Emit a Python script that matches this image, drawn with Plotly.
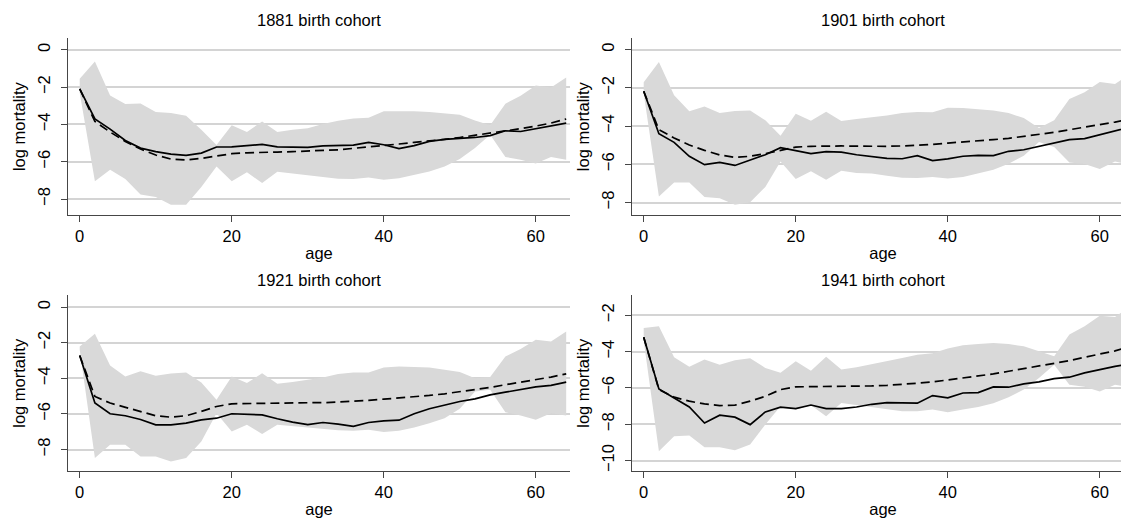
import plotly.graph_objects as go

ages = list(range(0, 65, 2))

titles = ["1881 birth cohort", "1901 birth cohort", "1921 birth cohort", "1941 birth cohort"]

# 1881 cohort
upper_1881 = [-1.55, -0.63, -2.45, -2.9, -2.88, -3.34, -3.39, -3.54, -4.29, -5.1, -4.05, -4.41, -3.84, -4.41, -4.29, -4.2, -3.98,
              -3.8, -3.68, -3.64, -3.3, -3.29, -3.3, -3.34, -3.39, -3.48, -3.79, -4.05, -2.89, -2.46, -1.91, -2.02, -1.48]
lower_1881 = [-2.3, -7.05, -6.43, -6.93, -7.75, -7.89, -8.3, -8.3, -7.36, -6.25, -7.05, -6.57, -7.14, -6.54, -6.64, -6.72, -6.82,
              -6.91, -6.93, -6.84, -6.96, -6.88, -6.7, -6.52, -6.25, -5.86, -5.27, -4.55, -5.75, -5.89, -6.1, -5.75, -5.89]
solid_1881 = [-2.1, -3.71, -4.25, -4.86, -5.27, -5.46, -5.59, -5.66, -5.54, -5.21, -5.2, -5.13, -5.07, -5.2, -5.23, -5.23, -5.15,
              -5.14, -5.11, -4.96, -5.09, -5.3, -5.14, -4.91, -4.8, -4.75, -4.7, -4.6, -4.34, -4.38, -4.23, -4.07, -3.93]
dashed_1881 = [-2.1, -3.84, -4.41, -4.91, -5.32, -5.64, -5.86, -5.91, -5.82, -5.68, -5.57, -5.52, -5.48, -5.48, -5.46, -5.44, -5.39,
               -5.36, -5.29, -5.2, -5.13, -5.05, -4.96, -4.89, -4.8, -4.7, -4.59, -4.48, -4.38, -4.23, -4.09, -3.93, -3.71]

# 1901 cohort
upper_1901 = [-1.71, -0.65, -2.39, -3.23, -2.97, -3.32, -3.21, -3.19, -3.7, -4.5, -3.35, -3.72, -3.25, -3.73, -3.63, -3.55, -3.45,
              -3.32, -3.26, -3.28, -3.04, -3.05, -3.11, -3.18, -3.32, -3.58, -4.1, -3.7, -2.58, -2.23, -1.69, -1.8, -1.26]
lower_1901 = [-2.3, -7.68, -6.95, -6.95, -7.71, -7.78, -8.12, -7.99, -7.19, -5.85, -6.77, -6.37, -6.81, -6.34, -6.46, -6.48, -6.6,
              -6.7, -6.72, -6.67, -6.75, -6.67, -6.46, -6.28, -5.97, -5.55, -4.83, -5.1, -5.9, -5.99, -6.25, -5.85, -6.02]
solid_1901 = [-2.18, -4.4, -4.85, -5.58, -6.02, -5.9, -6.06, -5.79, -5.5, -5.13, -5.27, -5.44, -5.34, -5.36, -5.5, -5.58, -5.69,
              -5.71, -5.55, -5.81, -5.72, -5.58, -5.53, -5.55, -5.32, -5.24, -5.06, -4.89, -4.71, -4.66, -4.45, -4.24, -4.05]
dashed_1901 = [-2.18, -4.19, -4.62, -4.99, -5.27, -5.51, -5.64, -5.58, -5.44, -5.27, -5.1, -5.06, -5.04, -5.04, -5.05, -5.06, -5.06,
               -5.04, -5.01, -4.96, -4.89, -4.83, -4.8, -4.71, -4.64, -4.54, -4.45, -4.33, -4.19, -4.07, -3.93, -3.79, -3.63]

# 1921 cohort
upper_1921 = [-2.21, -1.5, -3.28, -3.9, -3.61, -3.86, -3.73, -3.67, -4.23, -5.21, -3.9, -4.27, -3.71, -4.31, -4.21, -4.08, -3.95,
              -3.76, -3.67, -3.67, -3.39, -3.33, -3.37, -3.39, -3.52, -3.65, -3.99, -3.93, -2.77, -2.36, -1.84, -1.93, -1.37]
lower_1921 = [-2.4, -8.48, -7.73, -7.73, -8.39, -8.39, -8.67, -8.48, -7.55, -5.96, -6.99, -6.61, -7.13, -6.61, -6.7, -6.76, -6.84,
              -6.91, -6.95, -6.89, -7.02, -6.95, -6.76, -6.52, -6.24, -5.71, -4.74, -4.64, -5.9, -6.09, -6.33, -5.96, -6.09]
solid_1921 = [-2.72, -5.39, -5.99, -6.1, -6.31, -6.61, -6.61, -6.52, -6.33, -6.24, -5.99, -6.01, -6.05, -6.27, -6.46, -6.6, -6.48,
              -6.57, -6.7, -6.48, -6.39, -6.35, -5.99, -5.71, -5.49, -5.3, -5.15, -4.93, -4.78, -4.61, -4.48, -4.4, -4.21]
dashed_1921 = [-2.72, -5.02, -5.39, -5.64, -5.86, -6.1, -6.18, -6.1, -5.86, -5.58, -5.43, -5.41, -5.39, -5.39, -5.39, -5.37, -5.37,
               -5.34, -5.3, -5.24, -5.17, -5.11, -5.04, -4.96, -4.87, -4.76, -4.64, -4.51, -4.36, -4.23, -4.08, -3.93, -3.75]

# 1941 cohort
upper_1941 = [-2.7, -2.61, -4.31, -4.84, -4.44, -4.72, -4.48, -4.37, -4.9, -5.17, -4.53, -5.05, -4.29, -4.99, -4.86, -4.7, -4.55,
              -4.35, -4.17, -4.09, -3.83, -3.65, -3.58, -3.52, -3.58, -3.71, -3.98, -4.26, -3.06, -2.61, -2.02, -2.09, -1.5]
lower_1941 = [-3.4, -9.49, -8.66, -8.62, -9.27, -9.27, -9.43, -9.12, -8.02, -7.01, -7.19, -6.95, -7.56, -6.83, -6.92, -7.05, -7.17,
              -7.28, -7.28, -7.19, -7.34, -7.19, -7.05, -6.84, -6.51, -6.09, -5.45, -4.72, -5.82, -5.93, -6.19, -5.82, -5.96]
solid_1941 = [-3.21, -6.06, -6.55, -7.05, -7.93, -7.5, -7.61, -8.02, -7.32, -7.06, -7.14, -6.94, -7.14, -7.14, -7.05, -6.9, -6.81,
              -6.84, -6.84, -6.42, -6.55, -6.28, -6.26, -5.94, -5.96, -5.78, -5.67, -5.49, -5.41, -5.17, -4.99, -4.81, -4.68]
dashed_1941 = [-3.21, -6.09, -6.51, -6.73, -6.88, -6.97, -6.95, -6.73, -6.46, -6.09, -5.94, -5.93, -5.94, -5.94, -5.93, -5.89, -5.86,
               -5.82, -5.74, -5.67, -5.56, -5.47, -5.36, -5.23, -5.08, -4.94, -4.81, -4.66, -4.5, -4.31, -4.15, -3.96, -3.72]

panels = [
    (upper_1881, lower_1881, solid_1881, dashed_1881),
    (upper_1901, lower_1901, solid_1901, dashed_1901),
    (upper_1921, lower_1921, solid_1921, dashed_1921),
    (upper_1941, lower_1941, solid_1941, dashed_1941),
]

y_ticks = [[0, -2, -4, -6, -8], [0, -2, -4, -6, -8], [0, -2, -4, -6, -8], [-2, -4, -6, -8, -10]]
y_ranges = [[-8.87, 0.63], [-8.67, 0.61], [-9.22, 0.66], [-10.59, -0.9]]
x_ticks = [0, 20, 40, 60]

W, H = 1129, 519
xdoms = [[60 / W, 562 / W], [624 / W, 1126 / W]]
ydoms = [[1 - 207.3 / H, 1 - 30 / H], [1 - 463.3 / H, 1 - 287.3 / H]]

FONT = "Liberation Sans, Arial, Helvetica, sans-serif"
FS = 16.5
fig = go.Figure()
layout = {}
for i, (up, lo, so, da) in enumerate(panels):
    r, c = divmod(i, 2)
    xa = "x" if i == 0 else f"x{i+1}"
    ya = "y" if i == 0 else f"y{i+1}"
    fig.add_trace(go.Scatter(x=ages + ages[::-1], y=up + lo[::-1], fill="toself",
                             fillcolor="rgb(217,217,217)", line=dict(width=0), mode="lines",
                             hoverinfo="skip", showlegend=False, xaxis=xa, yaxis=ya))
    fig.add_trace(go.Scatter(x=ages, y=da, mode="lines", line=dict(color="black", width=1.7, dash="9px,5px"),
                             showlegend=False, xaxis=xa, yaxis=ya))
    fig.add_trace(go.Scatter(x=ages, y=so, mode="lines", line=dict(color="black", width=1.7),
                             showlegend=False, xaxis=xa, yaxis=ya))
    xkey = "xaxis" if i == 0 else f"xaxis{i+1}"
    ykey = "yaxis" if i == 0 else f"yaxis{i+1}"
    layout[xkey] = dict(domain=xdoms[c], range=[-1.54, 64.5], anchor=ya, tickvals=x_ticks,
                        showgrid=False, zeroline=False, showline=True, linecolor="rgb(70,70,70)", linewidth=1.2,
                        ticks="outside", ticklen=6, tickcolor="rgb(70,70,70)", tickwidth=1.2,
                        tickfont=dict(size=FS, color="black", family=FONT),
                        title=dict(text="age", font=dict(size=FS, color="black", family=FONT), standoff=3))
    layout[ykey] = dict(domain=ydoms[r], range=y_ranges[i], anchor=xa, tickvals=y_ticks[i],
                        showgrid=True, gridcolor="rgb(212,212,212)", gridwidth=1.5, zeroline=False,
                        showline=True, linecolor="rgb(70,70,70)", linewidth=1.2,
                        ticks="outside", ticklen=6, tickcolor="rgb(70,70,70)", tickwidth=1.2, tickangle=-90,
                        tickfont=dict(size=FS, color="black", family=FONT), ticklabelstandoff=4,
                        title=dict(text="log mortality", font=dict(size=FS, color="black", family=FONT), standoff=5))

annotations = []
title_pos = [(311, 12), (875, 12), (311, 272), (875, 272)]
for t, (px, py) in zip(titles, title_pos):
    annotations.append(dict(text=t, x=px / W, y=1 - py / H, xref="paper", yref="paper",
                            showarrow=False, xanchor="center", yanchor="middle",
                            font=dict(size=FS, color="black", family=FONT)))

fig.update_layout(width=W, height=H, margin=dict(l=0, r=0, t=0, b=0),
                  paper_bgcolor="white", plot_bgcolor="white", annotations=annotations,
                  showlegend=False, **layout)
fig.write_html("out.html")
